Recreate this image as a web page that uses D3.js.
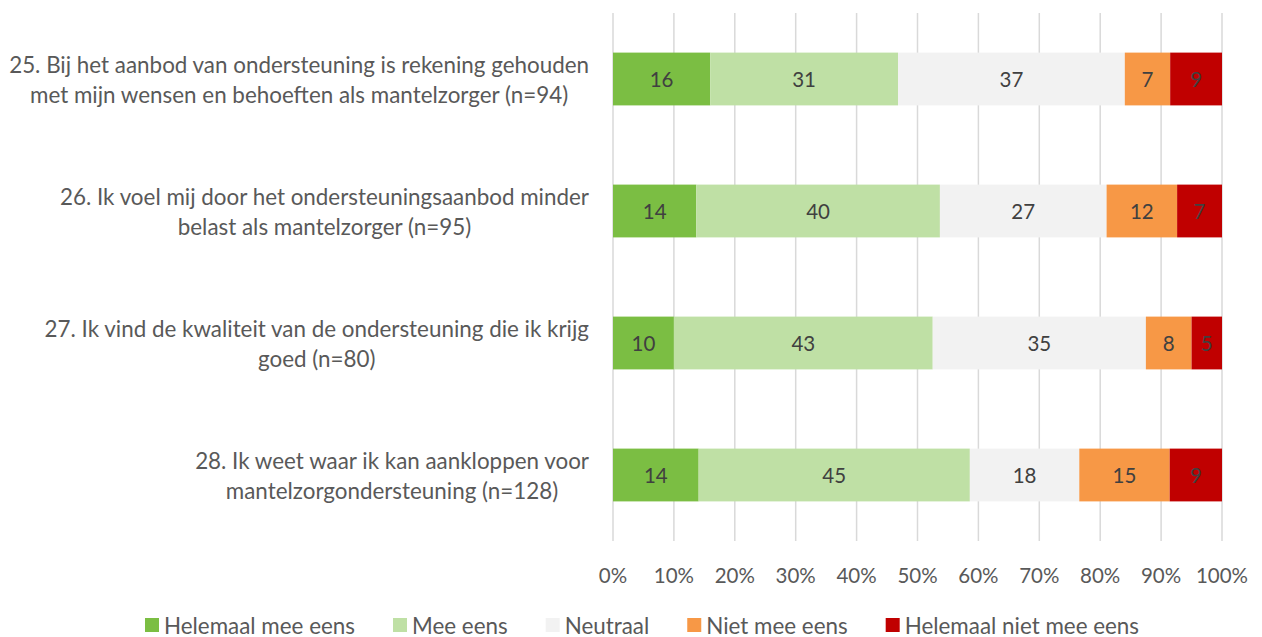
<!DOCTYPE html>
<html><head><meta charset="utf-8">
<script src="https://cdn.jsdelivr.net/npm/d3@7"></script>
<style>body{margin:0;background:#fff}svg{display:block}</style>
</head><body><svg id="c" width="1262" height="637"></svg>
<script>
const categories = [
  ["25. Bij het aanbod van ondersteuning is rekening gehouden","met mijn wensen en behoeften als mantelzorger (n=94)"],
  ["26. Ik voel mij door het ondersteuningsaanbod minder","belast als mantelzorger (n=95)"],
  ["27. Ik vind de kwaliteit van de ondersteuning die ik krijg","goed (n=80)"],
  ["28. Ik weet waar ik kan aankloppen voor","mantelzorgondersteuning (n=128)"]
];
const seriesNames = ["Helemaal mee eens","Mee eens","Neutraal","Niet mee eens","Helemaal niet mee eens"];
const colors = ["#7BBE43","#BFE0A5","#F2F2F2","#F79846","#C00000"];
// percentages per category (rows) per series
const helemaalMeeEens = [15.96, 13.68, 10.0, 14.06];
const meeEens         = [30.85, 40.0, 42.5, 44.53];
const neutraal        = [37.23, 27.37, 35.0, 17.97];
const nietMeeEens     = [7.45, 11.58, 7.5, 14.84];
const helemaalNiet    = [8.51, 7.37, 5.0, 8.59];
const tickLabels = ["0%","10%","20%","30%","40%","50%","60%","70%","80%","90%","100%"];

const series = [helemaalMeeEens, meeEens, neutraal, nietMeeEens, helemaalNiet];
const FONT = "Lato, 'Open Sans', sans-serif";
const TXT = 22.4, NUM = 20.5;
const svg = d3.select("#c");
const x = d3.scaleLinear().domain([0,100]).range([613,1222]);
const y = d3.scaleBand().domain(d3.range(categories.length)).range([13,541]).paddingInner(0.6).paddingOuter(0.3);

// gridlines
svg.append("g").selectAll("line").data(d3.range(0,101,10)).join("line")
  .attr("x1",d=>x(d)).attr("x2",d=>x(d)).attr("y1",13).attr("y2",541)
  .attr("stroke","#D9D9D9").attr("stroke-width",1.5);

// stacked data
const rows = categories.map((c,i)=>{
  let acc=0; const total = d3.sum(series, s=>s[i]);
  return series.map((s,j)=>{ const v=s[i]/total*100; const seg={row:i,ser:j,x0:acc,x1:acc+v,v:s[i]}; acc+=v; return seg;});
}).flat();

svg.append("g").selectAll("rect").data(rows).join("rect")
  .attr("x",d=>x(d.x0)).attr("width",d=>x(d.x1)-x(d.x0))
  .attr("y",d=>y(d.row)).attr("height",y.bandwidth())
  .attr("fill",d=>colors[d.ser]);

svg.append("g").selectAll("text").data(rows).join("text")
  .attr("x",d=>(x(d.x0)+x(d.x1))/2).attr("y",d=>y(d.row)+y.bandwidth()/2)
  .attr("text-anchor","middle").attr("dominant-baseline","central")
  .attr("font-family",FONT).attr("font-size",NUM).attr("fill","#404040")
  .text(d=>Math.round(d.v));

// x axis labels
svg.append("g").selectAll("text").data(tickLabels).join("text")
  .attr("x",(d,i)=>x(i*10)).attr("y",575).attr("text-anchor","middle").attr("dominant-baseline","central")
  .attr("font-family",FONT).attr("font-size",NUM).attr("fill","#595959").text(d=>d);

// category labels
const catG = svg.append("g");
categories.forEach((lines,i)=>{
  const g = catG.append("g");
  const cy = y(i)+y.bandwidth()/2;
  const ts = lines.map((l,k)=>g.append("text").attr("y",cy+(k-(lines.length-1)/2)*30)
    .attr("dominant-baseline","central").attr("text-anchor","middle")
    .attr("font-family",FONT).attr("font-size",TXT).attr("fill","#595959").text(l));
  const w = d3.max(ts, t=>t.node().getComputedTextLength());
  ts.forEach(t=>t.attr("x",589-w/2));
});

// legend
const lg = svg.append("g");
let lx = 145; const ly = 625;
seriesNames.forEach((n,i)=>{
  lg.append("rect").attr("x",lx).attr("y",ly-7).attr("width",14).attr("height",14).attr("fill",colors[i]);
  const t = lg.append("text").attr("x",lx+19).attr("y",ly).attr("dominant-baseline","central")
    .attr("font-family",FONT).attr("font-size",TXT).attr("fill","#595959").text(n);
  lx += 19 + t.node().getComputedTextLength() + 38;
});
</script></body></html>
